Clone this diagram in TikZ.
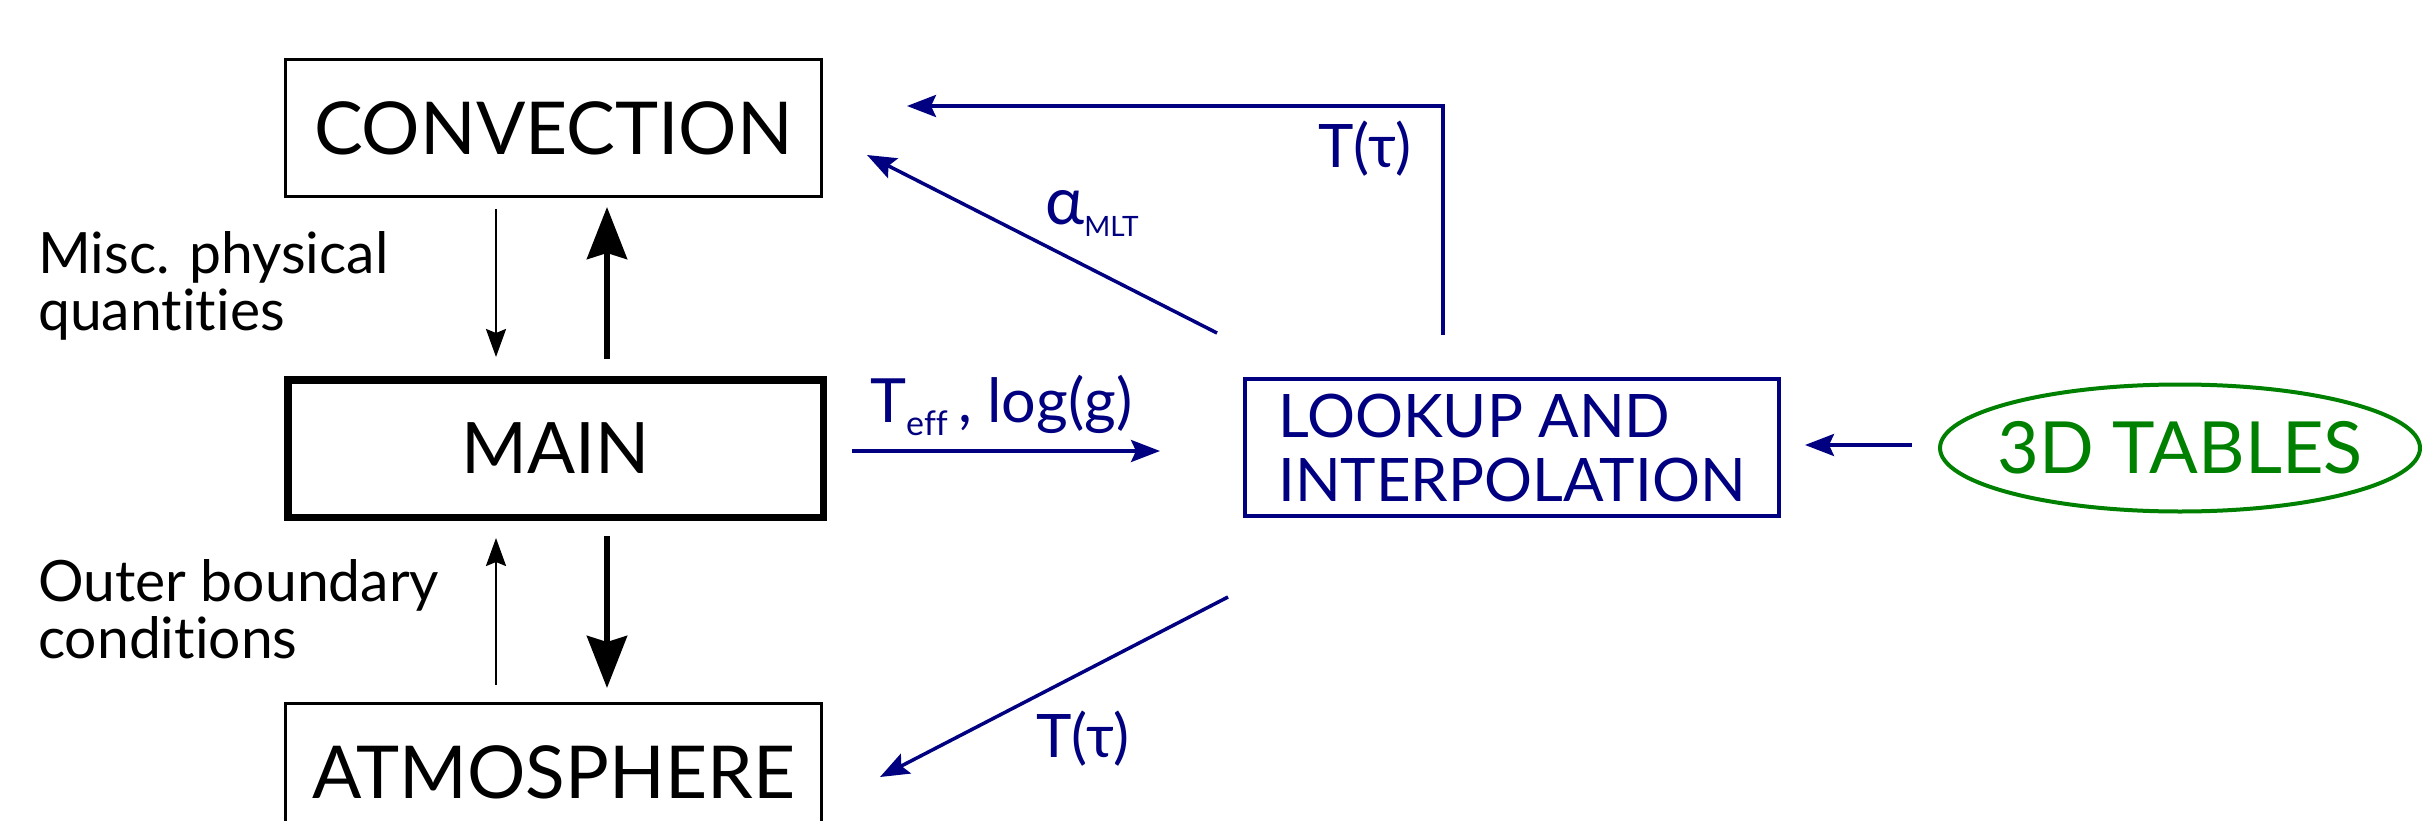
\documentclass[tikz,border=0pt]{standalone}
\usepackage{fontspec}
\setmainfont{Lato}[Ligatures=NoCommon]
\usetikzlibrary{arrows.meta,shapes.geometric}
\definecolor{navyb}{RGB}{0,0,128}
\definecolor{greent}{RGB}{0,128,0}
\begin{document}
\begin{tikzpicture}[x=1pt,y=-1pt,
  box/.style={draw=black,line width=3pt,minimum width=536pt,minimum height=137pt,inner sep=0pt,font=\fontsize{73}{80}\selectfont},
  mainbox/.style={box,line width=7.5pt,minimum width=535.5pt,minimum height=137.5pt,font=\fontsize{71}{80}\selectfont},
  lookbox/.style={draw=navyb,text=navyb,line width=3.5pt,minimum width=534pt,minimum height=137pt,inner sep=0pt,align=left,font=\fontsize{60}{64}\selectfont},
  tabell/.style={ellipse,draw=greent,text=greent,line width=4pt,minimum width=480pt,minimum height=127pt,inner xsep=-80pt,inner ysep=-40pt,font=\fontsize{72}{80}\selectfont},
  side/.style={inner sep=0pt,anchor=north west,align=left,font=\fontsize{57}{57}\selectfont},
  blab/.style={inner sep=0pt,anchor=base west,text=navyb,font=\fontsize{60}{70}\selectfont},
  thinarr/.style={draw=black,line width=2.5pt,-{Stealth[length=28pt,width=20pt,inset=4pt]}},
  thickarr/.style={draw=black,line width=6pt,-{Stealth[length=52pt,width=40pt,inset=6pt]}},
  bluearr/.style={draw=navyb,line width=3.5pt,-{Stealth[length=29pt,width=22pt,inset=5pt]}}
]
\useasboundingbox (0,0) rectangle (2425,821);
\clip (0,0) rectangle (2425,821);
\fill[white] (0,0) rectangle (2425,821);

% boxes
\node[box] (conv) at (553.5,128) {CONVECTION};
\node[mainbox] (main) at (555.5,448.5) {MAIN};
\node[box] (atm) at (553.5,772) {ATMOSPHERE};
\node[lookbox] (look) at (1512,447.5) {LOOKUP AND\\INTERPOLATION};
\node[tabell] (tab) at (2180,448) {3D TABLES};

% side labels
\node[side] (misc) at (38,231) {Misc. physical\\quantities};
\node[side] (outer) at (38,559) {Outer boundary\\conditions};

% endpoints
\coordinate (cdA) at (496,209);
\coordinate (cdB) at (496,357);
\coordinate (cuA) at (607,359);
\coordinate (cuB) at (607,207);
\coordinate (auA) at (496,685);
\coordinate (auB) at (496,538);
\coordinate (adA) at (607,536);
\coordinate (adB) at (607,688);
\coordinate (teA) at (852,451);
\coordinate (teB) at (1160,451);
\coordinate (alA) at (1217,333);
\coordinate (alB) at (867,155);
\coordinate (ttA) at (1443,335);
\coordinate (ttC) at (1443,106);
\coordinate (ttB) at (907,106);
\coordinate (tbA) at (1228,597);
\coordinate (tbB) at (880,777);
\coordinate (tdA) at (1912,445);
\coordinate (tdB) at (1805,445);

% black arrows
\draw[thinarr] (cdA) -- (cdB);
\draw[thickarr] (cuA) -- (cuB);
\draw[thinarr] (auA) -- (auB);
\draw[thickarr] (adA) -- (adB);

% blue arrows
\draw[bluearr] (teA) -- (teB);
\draw[bluearr] (alA) -- (alB);
\draw[bluearr] (ttA) -- (ttC) -- (ttB);
\draw[bluearr] (tbA) -- (tbB);
\draw[bluearr] (tdA) -- (tdB);

% blue labels
\node[blab,font=\fontsize{61}{70}\selectfont] (teff) at (870,422) {T\raisebox{-13pt}{\fontsize{34}{40}\selectfont eff}\,, log(g)};
\node[blab,font=\fontsize{66}{70}\selectfont] (alpha) at (1045,225) {α\raisebox{-12pt}{\fontsize{28}{30}\selectfont MLT}};
\node[blab] (ttop) at (1318,168) {T(τ)};
\node[blab] (tbot) at (1036,757) {T(τ)};
\end{tikzpicture}
\end{document}
